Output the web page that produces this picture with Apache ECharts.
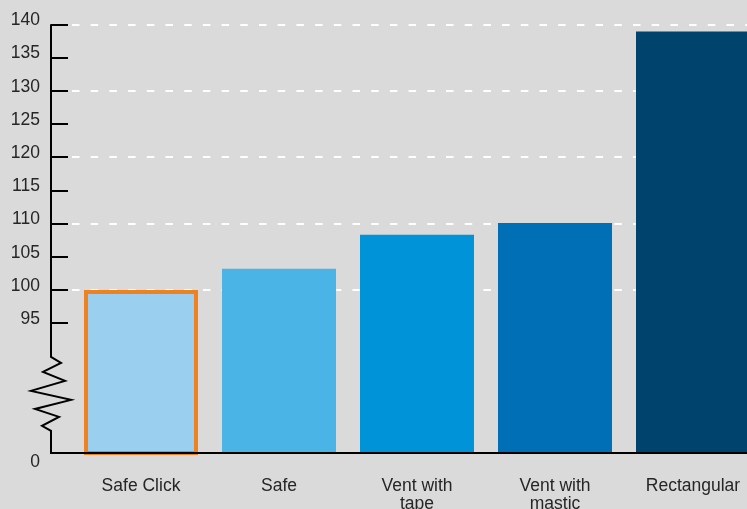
<!DOCTYPE html>
<html>
<head>
<meta charset="utf-8">
<script src="https://cdn.jsdelivr.net/npm/echarts@6/dist/echarts.min.js"></script>
<style>
html,body{margin:0;padding:0;background:#dadada;}
#chart{width:747px;height:509px;}
</style>
</head>
<body>
<div id="chart"></div>
<script>
// ---- data ----
const categories = ['Safe Click', 'Safe', 'Vent with\ntape', 'Vent with\nmastic', 'Rectangular'];
const values = [100, 103.2, 108.3, 110.1, 138.9];
const barColors = ['#9bcff0', '#4bb4e6', '#0093d7', '#006fb5', '#00446e'];
const yTickValues = [95, 100, 105, 110, 115, 120, 125, 130, 135, 140];
const gridValues = [100, 110, 120, 130, 140];
const baseLabel = '0';
// axis break (values where the zigzag starts / ends on the broken axis)
const breakTop = 89.92;
const breakBottom = 78.78;
const axisMin = 75.45;
const axisMax = 140;

const FONT = "'Liberation Sans', Arial, sans-serif";
const GRID_LEFT = 72, GRID_TOP = 24.3, GRID_BOTTOM = 56, GRID_WIDTH = 690, AXIS_OFFSET = 21;

const chart = echarts.init(document.getElementById('chart'));
const option = {
  backgroundColor: '#dadada',
  animation: false,
  grid: { left: GRID_LEFT, top: GRID_TOP, bottom: GRID_BOTTOM, right: 747 - GRID_LEFT - GRID_WIDTH, containLabel: false, outerBoundsMode: 'none' },
  xAxis: {
    type: 'category',
    data: categories,
    axisLine: { show: false },
    axisTick: { show: false },
    axisLabel: { margin: 24, color: '#262626', fontFamily: FONT, fontSize: 17.5, lineHeight: 18, interval: 0 }
  },
  yAxis: {
    type: 'value',
    min: axisMin,
    max: axisMax,
    offset: AXIS_OFFSET,
    z: 5,
    axisLine: { show: false },
    splitLine: { show: false },
    axisTick: {
      show: true, inside: true, length: 17,
      customValues: yTickValues,
      lineStyle: { color: '#000', width: 2 }
    },
    axisLabel: {
      customValues: [axisMin].concat(yTickValues),
      margin: 11,
      color: '#262626',
      fontFamily: FONT,
      fontSize: 17.5,
      formatter: function (v) {
        if (v < 90) return '{z|' + baseLabel + '}';
        return '{a|' + v + '}';
      },
      rich: {
        a: { fontFamily: FONT, fontSize: 17.5, color: '#262626', padding: [0, 0, 8, 0] },
        z: { fontFamily: FONT, fontSize: 17.5, color: '#262626', padding: [18, 0, 0, 0] }
      }
    }
  },
  series: [
    {
      type: 'line',
      data: [],
      z: 1,
      silent: true,
      markLine: {
        silent: true,
        z: 1,
        symbol: 'none',
        label: { show: false },
        lineStyle: { color: '#ffffff', type: [7.5, 11.2], width: 2 },
        data: gridValues.map(v => ({ yAxis: v }))
      }
    },
    {
      type: 'bar',
      z: 3,
      barWidth: 114,
      data: values.map((v, i) => ({
        value: v,
        itemStyle: i === 0
          ? { color: barColors[i], borderColor: '#ef8120', borderWidth: 4 }
          : { color: barColors[i] }
      }))
    }
  ]
};
chart.setOption(option);

// broken axis line with zigzag
const axisX = GRID_LEFT - AXIS_OFFSET;
const yp = v => chart.convertToPixel({ yAxisIndex: 0 }, v);
const zigOffsets = [10, -8, 14, -20, 20, -16, 8, -9];
const pts = [[axisX, yp(axisMax)], [axisX, yp(breakTop)]];
const yA = yp(breakTop), yB = yp(breakBottom);
const fr = [0.081, 0.203, 0.324, 0.459, 0.581, 0.703, 0.811, 0.932];
zigOffsets.forEach((dx, k) => pts.push([axisX + dx, yA + (yB - yA) * fr[k]]));
pts.push([axisX, yB]);
pts.push([axisX, yp(axisMin)]);
pts.push([GRID_LEFT + GRID_WIDTH, yp(axisMin)]);
chart.setOption({
  graphic: [{
    type: 'polyline',
    z: 100,
    silent: true,
    shape: { points: pts },
    style: { stroke: '#000', lineWidth: 2, fill: null, lineJoin: 'miter' }
  }]
});
</script>
</body>
</html>
